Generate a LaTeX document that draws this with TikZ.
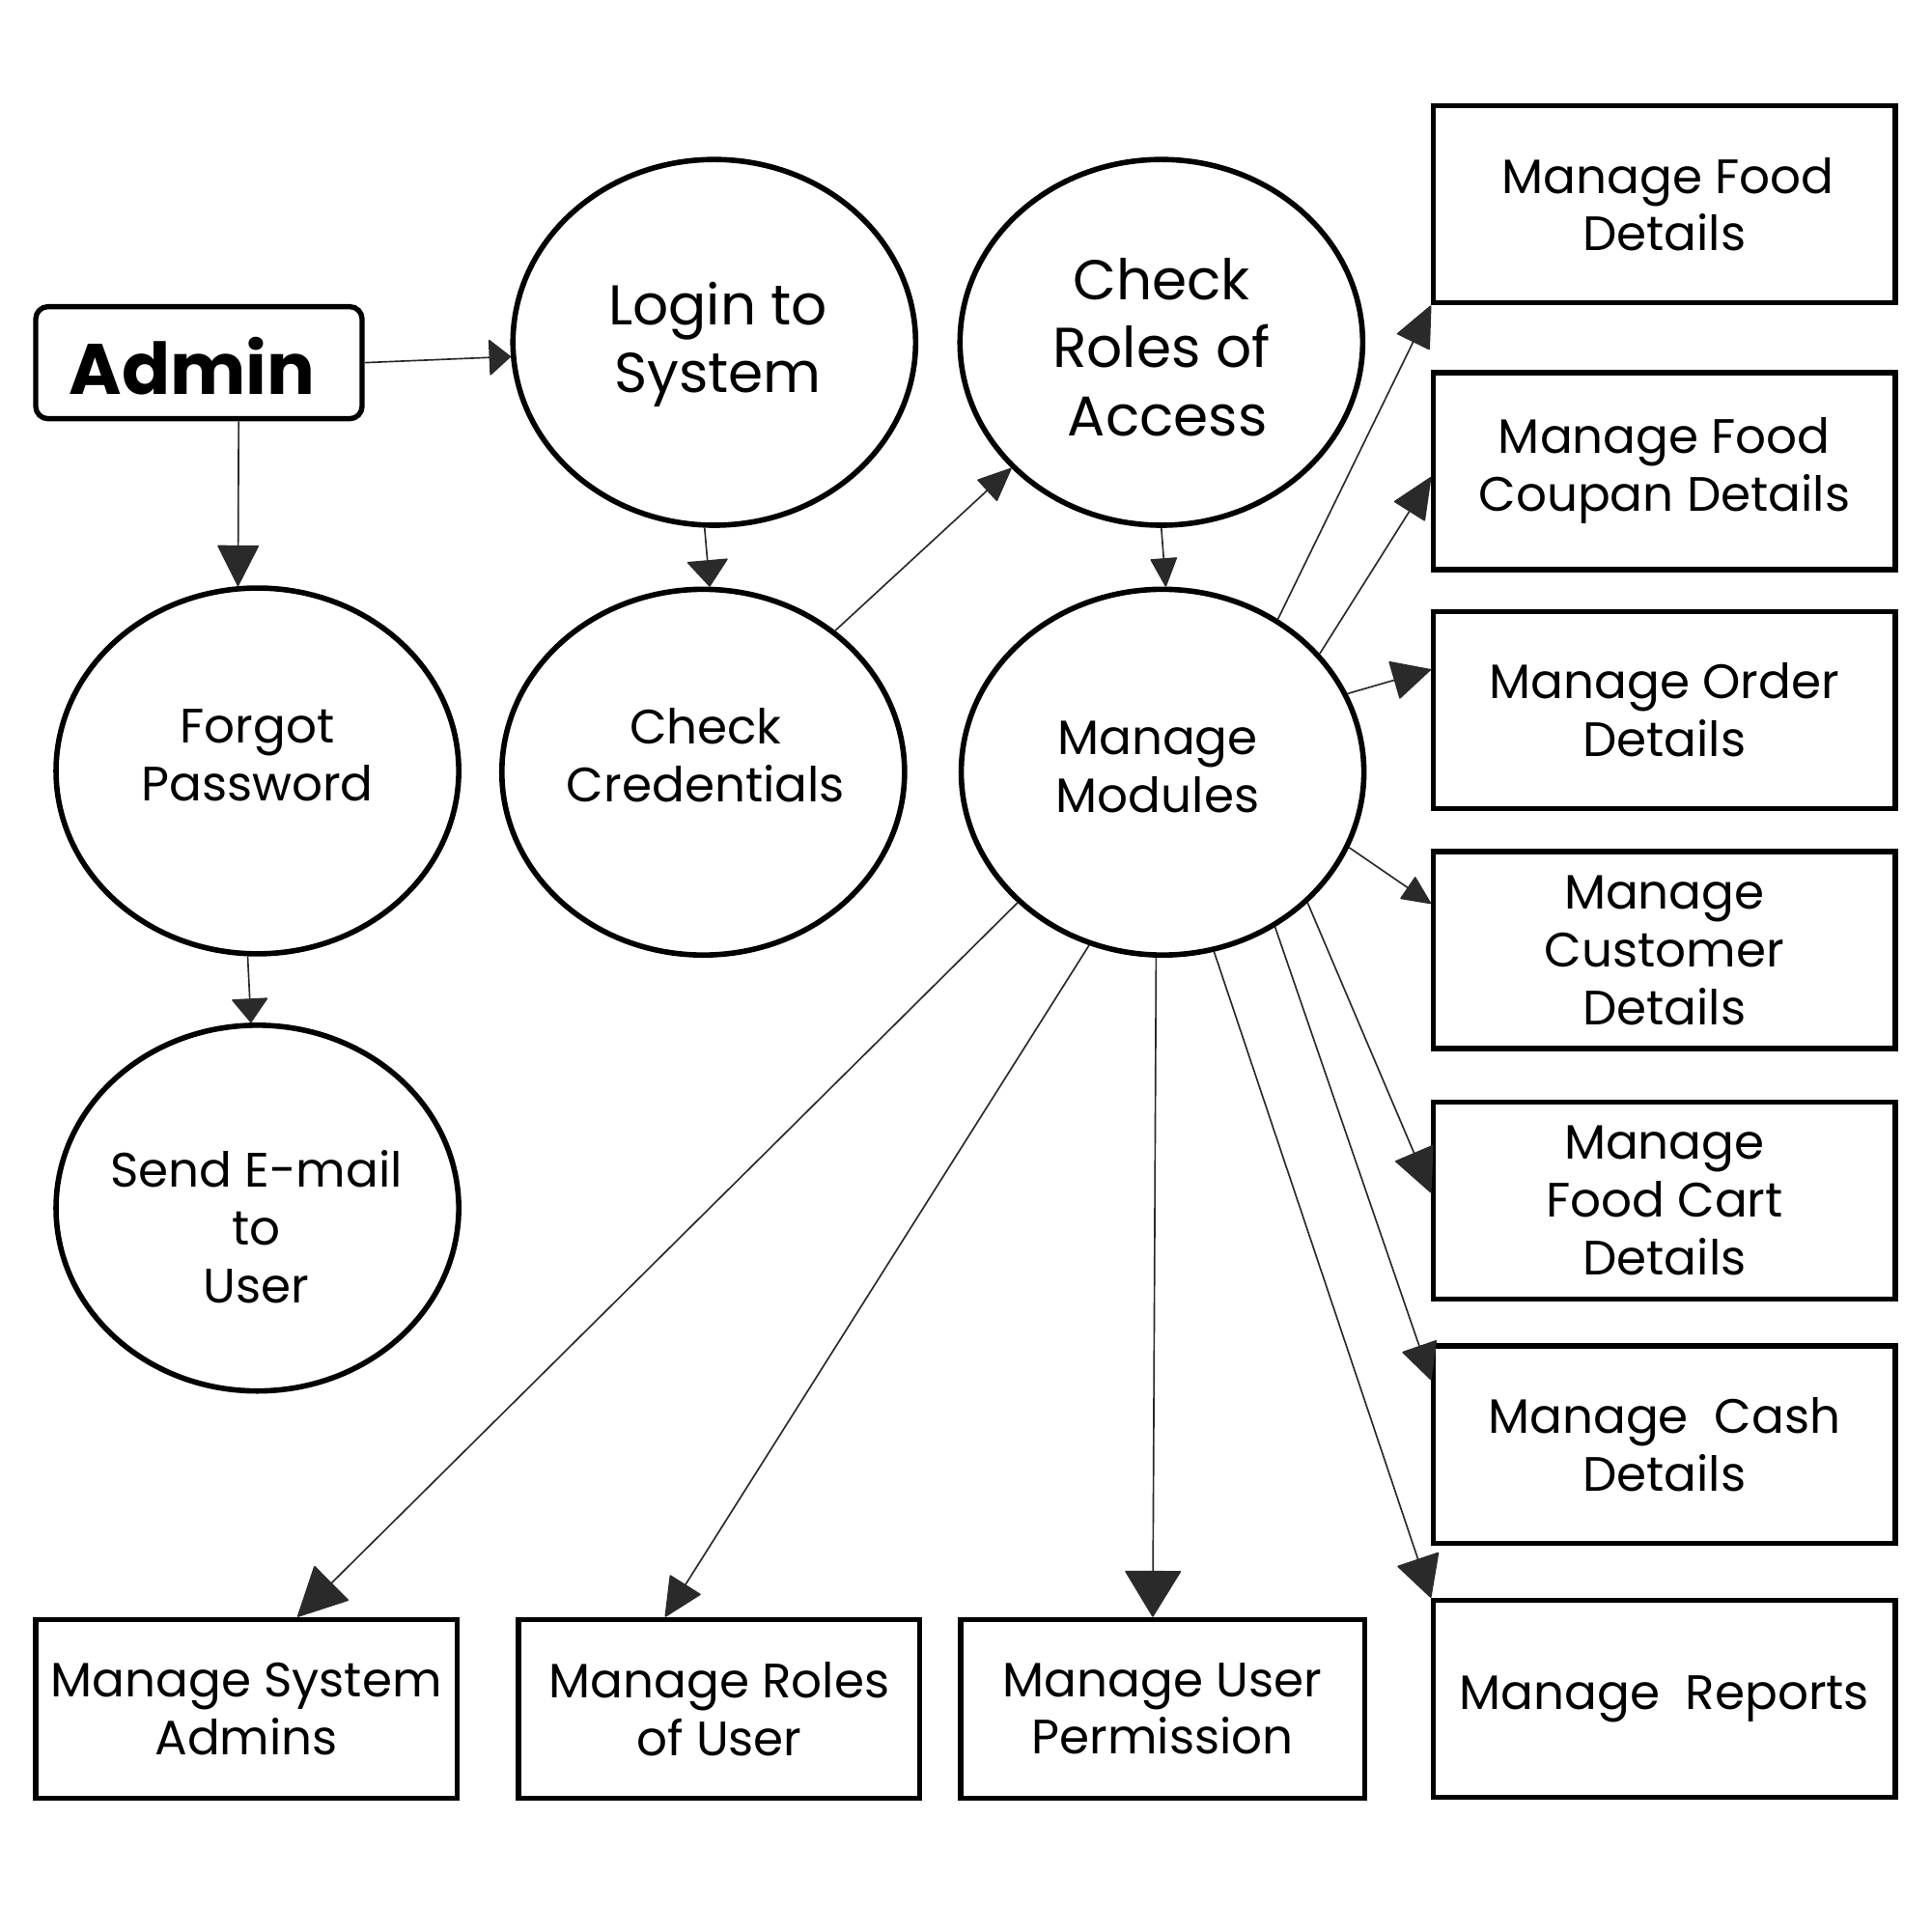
\documentclass[tikz,border=0pt]{standalone}
\usepackage{fontspec}
\setmainfont{Poppins}
\usetikzlibrary{shapes.geometric,arrows.meta,calc}
\definecolor{con}{HTML}{2A2A2A}
\begin{document}
\begin{tikzpicture}[x=0.5pt,y=-0.5pt,
  txt/.style={font=\fontsize{19.6}{23.5}\selectfont, align=center, inner sep=0pt},
  bigtxt/.style={font=\fontsize{22.8}{27.5}\selectfont, align=center, inner sep=0pt},
  ell/.style={ellipse, draw=black, line width=2.2pt, inner sep=0pt, minimum width=163.5pt, minimum height=148.5pt},
  rbox/.style={rectangle, draw=black, line width=2.1pt, inner sep=0pt, minimum width=187.5pt, minimum height=80pt, txt},
  bbox/.style={rectangle, draw=black, line width=2.1pt, inner sep=0pt, minimum height=72.5pt, txt},
  hd/.style 2 args={draw=con, line width=0.65pt, -{Triangle[length=#1,width=#2,round]}, fill=none},
]
\useasboundingbox (0,0) rectangle (1568,1568);
\fill[white] (0,0) rectangle (1568,1568);

% Admin
\node[rectangle, rounded corners=5pt, draw=black, line width=2.1pt, minimum width=132.5pt, minimum height=45.5pt, inner sep=0pt] (admin) at (161.5,294.5) {};
\node[font=\fontsize{29}{33}\selectfont\bfseries, inner sep=0pt] (admint) at (156,297) {Admin};

% ellipses
\node[ell] (login) at (580,278) {};
\node[bigtxt] (logint) at (583,280) {Login to\\System};
\node[ell] (roles) at (943,278) {};
\node[bigtxt] (rolest) at (943,282) {Check\\Roles of\\\hspace*{5pt}Access};
\node[ell] (fp) at (209,626) {};
\node[txt] (fpt) at (209,613) {Forgot\\Password};
\node[ell] (cc) at (571,627) {};
\node[txt] (cct) at (573,613) {Check\\Credentials};
\node[ell] (mm) at (944,627) {};
\node[txt] (mmt) at (940,623) {Manage\\Modules};
\node[ell] (se) at (209,981) {};
\node[txt] (set) at (208,996) {Send E-mail\\to\\User};

% right boxes
\node[rbox] (fd) at (1351.5,166) {\hspace*{3pt}Manage Food\\Details};
\node[rbox] (cp) at (1351.5,382.5) {Manage Food\\Coupan Details};
\node[rbox] (od) at (1351.5,576.5) {Manage Order\\Details};
\node[rbox] (cu) at (1351.5,771.5) {Manage\\Customer\\Details};
\node[rbox] (fc) at (1351.5,975) {Manage\\Food Cart\\Details};
\node[rbox] (ca) at (1351.5,1173) {Manage\ \ Cash\\Details};
\node[rbox] (rp) at (1351.5,1379.5) {Manage\ \ Reports};

% bottom boxes
\node[bbox, minimum width=171pt] (sa) at (200,1387.5) {Manage System\\Admins};
\node[bbox, minimum width=163pt] (ru) at (584,1387.5) {Manage Roles\\of User};
\node[bbox, minimum width=164pt] (up) at (944,1387.5) {Manage User\\Permission};

% connectors
\draw[hd={9pt}{15pt}] (admin.east) -- (login.184);
\draw[hd={17pt}{17pt}] ($(admin.south west)!0.62!(admin.south east)$) -- (fp.96);
\draw[hd={11pt}{17pt}] (login.-93) -- (cc.88);
\draw[hd={14pt}{12pt}] (cc.47) -- (roles.220);
\draw[hd={12pt}{11pt}] (roles.south) -- (mm.89);
\draw[hd={10pt}{15pt}] (fp.-93) -- (se.92);

\draw[hd={17pt}{15pt}] (mm.53) -- (fd.south west);
\draw[hd={17pt}{15pt}] (mm.37) -- ($(cp.north west)!0.53!(cp.south west)$);
\draw[hd={16pt}{16pt}] (mm.23) -- ($(od.north west)!0.3!(od.south west)$);
\draw[hd={12pt}{11pt}] (mm.-22) -- ($(cu.north west)!0.27!(cu.south west)$);
\draw[hd={18pt}{17pt}] (mm.-42) -- ($(fc.north west)!0.46!(fc.south west)$);
\draw[hd={15pt}{15pt}] (mm.-54) -- ($(ca.north west)!0.18!(ca.south west)$);
\draw[hd={17pt}{18pt}] (mm.-74) -- (rp.north west);
\draw[hd={19pt}{23pt}] (mm.-92) -- ($(up.north west)!0.476!(up.north east)$);
\draw[hd={16pt}{15pt}] (mm.-113) -- ($(ru.north west)!0.367!(ru.north east)$);
\draw[hd={20pt}{20pt}] (mm.-138) -- ($(sa.north west)!0.62!(sa.north east)$);
\end{tikzpicture}
\end{document}
